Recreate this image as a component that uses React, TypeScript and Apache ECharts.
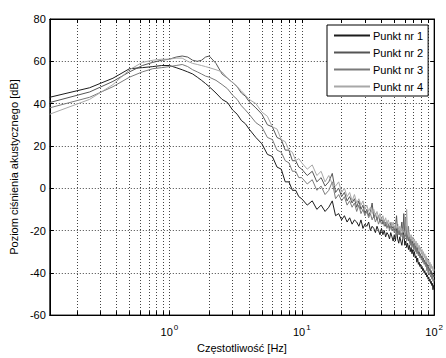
import React, { useEffect, useRef } from "react";
import * as echarts from "echarts";

const FONT = "'Liberation Sans', Arial, Helvetica, sans-serif";

const freqLow = [0.125, 0.25, 0.375, 0.5, 0.625, 0.75, 0.875, 1.0, 1.125, 1.25, 1.375, 1.5, 1.625, 1.75, 1.875, 2.0,
  2.25, 2.5, 2.75, 3.0, 3.25, 3.5, 3.75, 4.0,
  4.5, 5.0, 5.5, 6.0, 6.5, 7.0, 7.5, 8.0, 8.5, 9.0, 9.5];
const freqHigh = [
  10, 11, 12, 13, 14, 15, 16, 17, 18, 19,
  20, 21, 22, 23, 24, 25, 26, 27, 28, 29,
  30, 31, 32, 33, 34, 35, 36, 37, 38, 39,
  40, 41, 42, 43, 44, 45, 46, 47, 48, 49,
  50, 51, 52, 53, 54, 55, 56, 57, 58, 59,
  60, 61, 62, 63, 64, 65, 66, 67, 68, 69,
  70, 71, 72, 73, 74, 75, 76, 77, 78, 79,
  80, 81, 82, 83, 84, 85, 86, 87, 88, 89,
  90, 91, 92, 93, 94, 95, 96, 97, 98, 99,
  100];

const punkt1Low = [43, 47.5, 52, 56.5, 57, 57.5, 58, 58, 57, 56, 55, 54, 52.5, 51, 49.5, 48,
  45, 42, 40.5, 37, 35, 32, 30.5, 28,
  24, 21, 16, 15, 10, 9, 3, 3, -1, -1, -4];
const punkt1High = [
  -5, -8, -6, -10, -8, -11, -9, -6, -13, -12,
  -15, -13, -16, -14, -17, -15, -16, -18, -15, -19,
  -17, -18, -16, -20, -18, -19, -21, -18, -20, -22,
  -19, -22, -20, -23, -21, -22, -24, -21, -23, -25,
  -22, -25, -19, -24, -26, -23, -25, -27, -24, -20,
  -27, -25, -28, -26, -29, -27, -30, -28, -31, -29,
  -32, -30, -33, -32, -35, -33, -36, -35, -37, -36,
  -38, -37, -39, -38, -40, -39, -41, -40, -42, -41,
  -43, -42, -44, -43, -45, -44, -46, -45, -48, -46,
  -47];

const punkt2Low = [40.5, 45.5, 50.5, 55, 58, 59.5, 60.5, 61, 62, 62.5, 62, 60.5, 60, 60.5, 62, 62.5,
  59, 54, 52, 50, 48, 45, 43.5, 41,
  38, 35, 30, 29, 24, 23, 18, 18, 13, 13, 10];
const punkt2High = [
  9, 6, 8, 3, 5, 1, 3, 7, -2, 0,
  -4, -2, -6, -4, -7, -5, -9, -6, -10, -8,
  -12, -10, -13, -11, -7, -14, -12, -15, -13, -16,
  -14, -17, -15, -18, -16, -17, -19, -16, -19, -18,
  -20, -18, -13, -21, -19, -22, -20, -16, -22, -12,
  -23, -18, -24, -22, -25, -23, -26, -24, -27, -25,
  -28, -26, -29, -27, -30, -28, -31, -30, -32, -31,
  -33, -32, -34, -33, -35, -34, -36, -35, -37, -36,
  -38, -37, -39, -38, -40, -39, -41, -40, -42, -41,
  -42];

const punkt3Low = [38, 43, 48, 52.5, 55, 56.5, 57, 57.5, 58, 58.5, 57.5, 56, 55, 54, 53, 52.5,
  51, 49, 47, 44, 42, 39, 37, 35,
  31, 29, 24, 23, 18, 17, 13, 12, 8, 8, 5];
const punkt3High = [
  5, 2, 4, -1, 1, -3, -1, 3, -5, -3,
  -6, -4, -8, -6, -9, -7, -11, -8, -12, -10,
  -13, -11, -14, -12, -15, -13, -16, -14, -17, -15,
  -17, -15, -18, -16, -19, -17, -20, -18, -20, -19,
  -21, -19, -22, -17, -22, -20, -23, -21, -24, -22,
  -24, -14, -25, -23, -18, -25, -27, -25, -28, -26,
  -29, -27, -30, -28, -31, -30, -32, -31, -33, -32,
  -34, -33, -35, -34, -36, -35, -37, -36, -39, -37,
  -40, -38, -41, -40, -42, -41, -43, -42, -44, -43,
  -44];

const punkt4Low = [35, 42, 49, 56, 59.5, 60.5, 61, 61, 61.5, 61.5, 60, 59, 58.5, 58, 57.5, 57,
  56, 55, 52, 50, 48, 46, 44, 42,
  40, 36, 34, 29, 28, 23, 22, 18, 17, 13, 14];
const punkt4High = [
  12, 9, 11, 6, 8, 3, 6, 2, 1, 3,
  -2, 0, -4, -2, -6, -3, -7, -5, -8, -6,
  -10, -8, -11, -9, -12, -10, -13, -11, -14, -12,
  -15, -13, -16, -14, -17, -15, -17, -16, -18, -16,
  -19, -17, -19, -18, -20, -18, -21, -19, -21, -20,
  -22, -20, -10, -21, -23, -21, -24, -22, -25, -23,
  -26, -24, -27, -25, -28, -26, -29, -27, -30, -28,
  -31, -29, -32, -30, -33, -31, -34, -32, -35, -33,
  -36, -34, -37, -35, -38, -36, -38, -37, -39, -38,
  -39];

const freqHz = [...freqLow, ...freqHigh];
const seriesNames = ["Punkt nr 1", "Punkt nr 2", "Punkt nr 3", "Punkt nr 4"];
const seriesValues = [
  [...punkt1Low, ...punkt1High],
  [...punkt2Low, ...punkt2High],
  [...punkt3Low, ...punkt3High],
  [...punkt4Low, ...punkt4High],
];
const seriesColors = ["#1c1c1c", "#555555", "#7a7a7a", "#a8a8a8"];

const xTickValues = [0.2, 0.3, 0.4, 0.5, 0.6, 0.7, 0.8, 0.9, 1, 2, 3, 4, 5, 6, 7, 8, 9, 10, 20, 30, 40, 50, 60, 70, 80, 90, 100];
const xLabelValues = [1, 10, 100];

export default function App() {
  const ref = useRef<HTMLDivElement>(null);
  useEffect(() => {
    if (!ref.current) return;
    const chart = echarts.init(ref.current, undefined, { renderer: "svg" });
    const labelFmt = (v: number) => {
      const e = Math.log10(v);
      const r = Math.round(e);
      if (Math.abs(e - r) < 1e-6) return `{b|10}{s|${r}}`;
      return "";
    };
    const series: any[] = seriesNames.map((name, i) => ({
      name,
      type: "line",
      data: freqHz.map((f, k) => [f, seriesValues[i][k]]),
      showSymbol: false,
      symbol: "none",
      lineStyle: { color: seriesColors[i], width: 1 },
      itemStyle: { color: seriesColors[i] },
      z: 3 + i,
    }));
    const gridStyle = { color: "#444", type: [1, 2], width: 1 };
    chart.setOption({
      animation: false,
      backgroundColor: "#fff",
      grid: { left: 49, right: 9, top: 19, bottom: 35, show: true, borderColor: "#000", borderWidth: 1, backgroundColor: "#fff" },
      legend: {
        orient: "vertical",
        left: 327,
        top: 25,
        padding: [4, 5, 3, 7],
        itemGap: 4,
        itemWidth: 36,
        itemHeight: 2,
        icon: "rect",
        borderColor: "#000",
        borderWidth: 1,
        backgroundColor: "#fff",
        textStyle: { fontFamily: FONT, fontSize: 11, color: "#000", lineHeight: 13, padding: [0, 0, 0, -2] },
        data: seriesNames,
      },
      xAxis: [
        {
          type: "log",
          logBase: 10,
          min: 0.125,
          max: 100,
          name: "Częstotliwość [Hz]",
          nameLocation: "middle",
          nameGap: 24,
          nameTextStyle: { fontFamily: FONT, fontSize: 11, color: "#000" },
          axisLine: { show: true, onZero: false, lineStyle: { color: "#000", width: 1 } },
          axisTick: { show: true, inside: true, length: 4, customValues: xTickValues, lineStyle: { color: "#000" } },
          splitLine: { show: true, lineStyle: gridStyle },
          axisLabel: {
            customValues: xLabelValues,
            formatter: labelFmt,
            margin: 8,
            rich: {
              b: { fontFamily: FONT, fontSize: 11, color: "#000", lineHeight: 14, verticalAlign: "bottom" },
              s: { fontFamily: FONT, fontSize: 8, color: "#000", lineHeight: 14, verticalAlign: "top", padding: [0, 0, 0, 1] },
            },
          },
        },
        {
          type: "log",
          logBase: 10,
          min: 0.125,
          max: 100,
          position: "top",
          axisLine: { show: true, onZero: false, lineStyle: { color: "#000", width: 1 } },
          axisTick: { show: true, inside: true, length: 4, customValues: xTickValues, lineStyle: { color: "#000" } },
          axisLabel: { show: false },
          splitLine: { show: false },
        },
      ],
      yAxis: [
        {
          type: "value",
          min: -60,
          max: 80,
          interval: 20,
          name: "Poziom ciśnienia akustycznego [dB]",
          nameLocation: "middle",
          nameGap: 25,
          nameTextStyle: { fontFamily: FONT, fontSize: 11, color: "#000" },
          axisLine: { show: true, onZero: false, lineStyle: { color: "#000", width: 1 } },
          axisTick: { show: true, inside: true, length: 4, lineStyle: { color: "#000" } },
          axisLabel: { fontFamily: FONT, fontSize: 11, color: "#000", margin: 4 },
          splitLine: { show: true, lineStyle: gridStyle },
        },
        {
          type: "value",
          min: -60,
          max: 80,
          interval: 20,
          position: "right",
          axisLine: { show: true, onZero: false, lineStyle: { color: "#000", width: 1 } },
          axisTick: { show: true, inside: true, length: 4, lineStyle: { color: "#000" } },
          axisLabel: { show: false },
          splitLine: { show: false },
        },
      ],
      series,
    });
    return () => chart.dispose();
  }, []);
  return <div ref={ref} style={{ position: "absolute", left: 0, top: 0, width: 446, height: 358 }} />;
}
